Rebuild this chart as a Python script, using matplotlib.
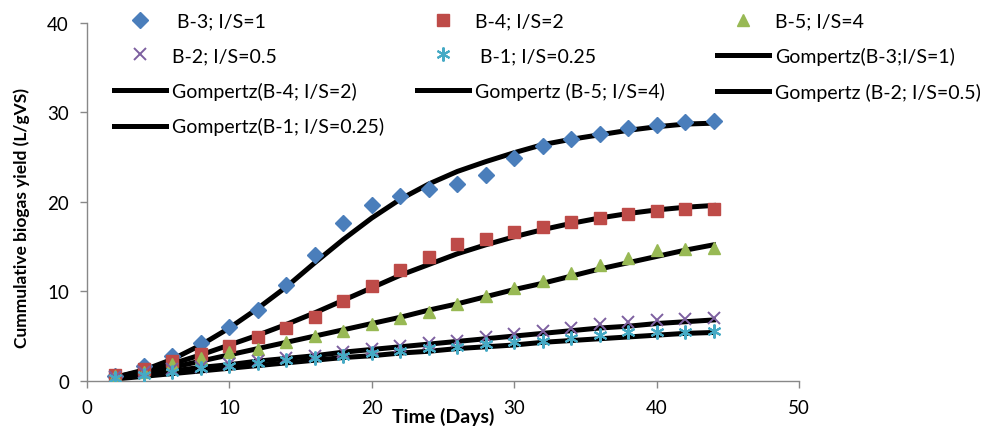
import matplotlib
matplotlib.use('Agg')
import matplotlib.pyplot as plt

plt.rcParams['font.family'] = ['Lato', 'DejaVu Sans']

days = [2, 4, 6, 8, 10, 12, 14, 16, 18, 20, 22, 24, 26, 28, 30, 32, 34, 36, 38, 40, 42, 44]

# measured cumulative biogas yield (L/gVS)
b3 = [0.5, 1.6, 2.8, 4.2, 6.0, 7.9, 10.7, 14.1, 17.6, 19.7, 20.7, 21.4, 22.0, 23.0, 24.9, 26.3, 27.0, 27.6, 28.3, 28.6, 28.9, 29.0]
b4 = [0.6, 1.3, 2.2, 3.0, 3.9, 4.9, 5.9, 7.1, 8.9, 10.6, 12.4, 13.8, 15.3, 15.9, 16.6, 17.2, 17.8, 18.2, 18.6, 19.0, 19.2, 19.2]
b5 = [0.5, 1.0, 1.9, 2.5, 3.2, 3.6, 4.3, 5.0, 5.6, 6.4, 7.0, 7.7, 8.6, 9.5, 10.4, 11.2, 12.0, 13.0, 13.7, 14.6, 14.7, 14.8]
b2 = [0.4, 1.0, 1.3, 1.5, 1.9, 2.2, 2.5, 2.8, 3.2, 3.5, 3.9, 4.2, 4.4, 4.9, 5.2, 5.6, 5.9, 6.3, 6.55, 6.85, 6.9, 7.0]
b1 = [0.3, 0.7, 1.0, 1.4, 1.6, 2.0, 2.3, 2.5, 2.8, 3.1, 3.3, 3.7, 3.8, 4.1, 4.3, 4.5, 4.8, 5.1, 5.4, 5.5, 5.5, 5.55]

# Gompertz fits
g3 = [0.4, 1.2, 2.4, 4.0, 5.9, 8.1, 10.5, 13.2, 15.8, 18.2, 20.3, 22.0, 23.4, 24.5, 25.5, 26.4, 27.0, 27.5, 28.0, 28.4, 28.7, 28.8]
g4 = [0.4, 1.1, 1.9, 2.9, 4.0, 5.1, 6.3, 7.6, 9.0, 10.4, 11.8, 13.0, 14.2, 15.2, 16.1, 16.9, 17.6, 18.2, 18.7, 19.1, 19.4, 19.6]
g5 = [0.4, 0.9, 1.5, 2.2, 2.9, 3.6, 4.3, 5.0, 5.7, 6.4, 7.1, 7.9, 8.6, 9.4, 10.2, 10.9, 11.7, 12.5, 13.2, 13.9, 14.6, 15.2]
g2 = [0.3, 0.7, 1.1, 1.5, 1.8, 2.2, 2.5, 2.8, 3.2, 3.5, 3.8, 4.1, 4.4, 4.7, 5.0, 5.3, 5.6, 5.9, 6.1, 6.4, 6.6, 6.8]
g1 = [0.2, 0.5, 0.8, 1.1, 1.4, 1.7, 2.0, 2.3, 2.6, 2.8, 3.1, 3.3, 3.6, 3.8, 4.0, 4.3, 4.5, 4.7, 4.9, 5.1, 5.3, 5.4]

fig = plt.figure(figsize=(9.85, 4.27), dpi=100)
ax = fig.add_axes([0.0883, 0.1059, 0.7229, 0.8379])

lw = 3.6
lg3, = ax.plot(days, g3, color='black', lw=lw, zorder=2)
lg4, = ax.plot(days, g4, color='black', lw=lw, zorder=2)
lg5, = ax.plot(days, g5, color='black', lw=lw, zorder=2)
lg2, = ax.plot(days, g2, color='black', lw=lw, zorder=2)
lg1, = ax.plot(days, g1, color='black', lw=lw, zorder=2)

p3, = ax.plot(days, b3, ls='none', marker='D', ms=8, color='#4A7EBB', zorder=3)
p4, = ax.plot(days, b4, ls='none', marker='s', ms=8.5, color='#BE4B48', zorder=3)
p5, = ax.plot(days, b5, ls='none', marker='^', ms=9, color='#98B954', zorder=3)
p2, = ax.plot(days, b2, ls='none', marker='x', ms=8, mew=1.4, color='#7D60A0', zorder=3)
p1, = ax.plot(days, b1, ls='none', marker=(6, 2, 0), ms=10, mew=1.5, color='#46AAC5', zorder=3)

ax.set_xlim(0, 50)
ax.set_ylim(0, 40)
ax.set_xticks([0, 10, 20, 30, 40, 50])
ax.set_yticks([0, 10, 20, 30, 40])
ax.tick_params(labelsize=13.5, length=5, width=1, color='#888888', pad=8)
for s in ['top', 'right']:
    ax.spines[s].set_visible(False)
for s in ['left', 'bottom']:
    ax.spines[s].set_color('#888888')
    ax.spines[s].set_linewidth(1)

fig.text(0.022, 0.49, 'Cummulative biogas yield (L/gVS)', rotation=90,
         ha='center', va='center', fontsize=12.5, fontweight='bold')
fig.text(0.45, 0.002, 'Time (Days)', ha='center', va='bottom',
         fontsize=14, fontweight='bold')

# three legend columns, laid out like the original (row by row)
cols = [
    ([p3, p2, lg4, lg1], [' B-3; I/S=1', 'B-2; I/S=0.5', 'Gompertz(B-4; I/S=2)', 'Gompertz(B-1; I/S=0.25)'], 110),
    ([p4, p1, lg5], ['B-4; I/S=2', ' B-1; I/S=0.25', 'Gompertz (B-5; I/S=4)'], 413),
    ([p5, lg3, lg2], ['B-5; I/S=4', 'Gompertz(B-3;I/S=1)', 'Gompertz (B-2; I/S=0.5)'], 713),
]
for handles, names, x0 in cols:
    leg = fig.legend(handles, names, loc='upper left', bbox_to_anchor=(x0 / 985, 0.977),
                     frameon=False, fontsize=14, numpoints=1, handlelength=2.7,
                     handletextpad=0.3, labelspacing=0.9, borderpad=0.2,
                     borderaxespad=0)

plt.savefig('out.png', dpi=100)
